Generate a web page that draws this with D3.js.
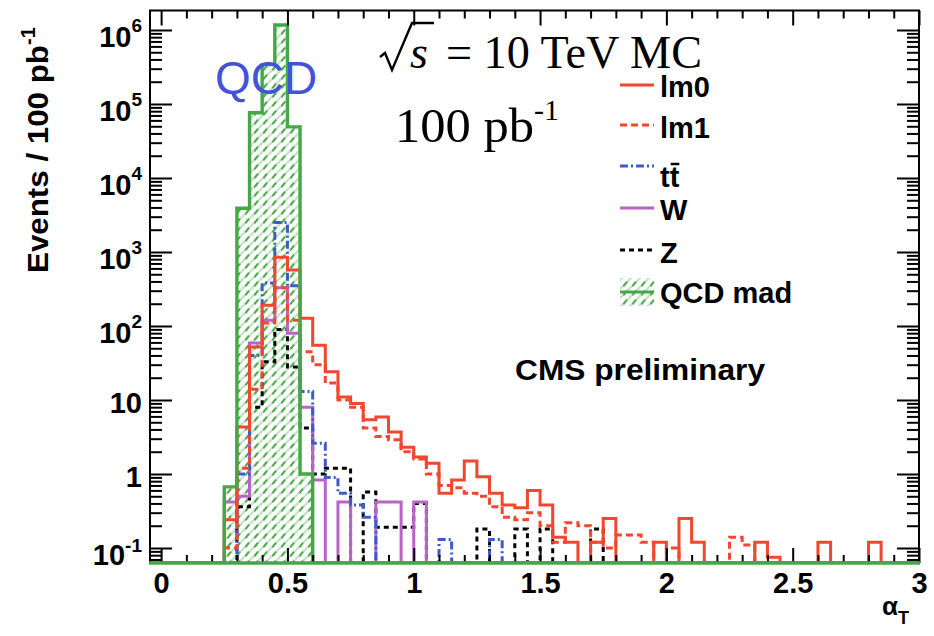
<!DOCTYPE html>
<html>
<head>
<meta charset="utf-8">
<script src="https://cdn.jsdelivr.net/npm/d3@7"></script>
<style>
  html, body { margin: 0; padding: 0; background: #fff; }
  svg { display: block; }
</style>
</head>
<body>
<svg id="chart" width="934" height="636"></svg>
<script>
// ---- binning: 60 bins of alpha_T, width 0.05, from 0 to 3 ----
const binWidth = 0.05;
const binLow = d3.range(60).map(i => +(i * binWidth).toFixed(2));

// ---- events / 100 pb^-1 per bin ----
const qcdMad = [
  0, 0, 0, 0, 0, 0.67, 3900, 76000, 340000, 1170000,
  49000, 1.0, 0, 0, 0, 0, 0, 0, 0, 0,
  0, 0, 0, 0, 0, 0, 0, 0, 0, 0,
  0, 0, 0, 0, 0, 0, 0, 0, 0, 0,
  0, 0, 0, 0, 0, 0, 0, 0, 0, 0,
  0, 0, 0, 0, 0, 0, 0, 0, 0, 0
];
const lm0 = [
  0, 0, 0, 0, 0, 0.24, 4.3, 52, 190, 850,
  570, 127, 55, 24, 11, 9, 5.4, 5.9, 3.7, 2.3,
  1.7, 1.4, 0.55, 0.83, 1.5, 0.92, 0.55, 0.38, 0.35, 0.6,
  0.38, 0.14, 0.12, 0, 0.12, 0.25, 0, 0, 0, 0.12,
  0, 0.25, 0.12, 0, 0, 0, 0, 0.12, 0.075, 0,
  0, 0, 0.12, 0, 0, 0, 0.12, 0, 0, 0
];
const lm1 = [
  0, 0, 0, 0, 0, 0.1, 1.2, 14, 110, 330,
  120, 45, 30, 17, 10, 8, 4.2, 3.2, 2.9, 2.0,
  1.6, 1.0, 0.7, 0.65, 0.55, 0.5, 0.36, 0.26, 0.24, 0.3,
  0.2, 0.12, 0.22, 0.2, 0.12, 0.1, 0.15, 0.15, 0.12, 0,
  0.1, 0, 0, 0, 0, 0.14, 0.11, 0, 0, 0,
  0, 0, 0, 0, 0, 0, 0, 0, 0, 0
];
const ttbar = [
  0, 0, 0, 0, 0, 0, 1.0, 40, 380, 2500,
  350, 13, 2.6, 0.9, 0.55, 0.38, 0.26, 0, 0, 0,
  0, 0, 0.13, 0, 0, 0, 0.13, 0, 0, 0,
  0, 0, 0, 0, 0, 0, 0, 0, 0, 0,
  0, 0, 0, 0, 0, 0, 0, 0, 0, 0,
  0, 0, 0, 0, 0, 0, 0, 0, 0, 0
];
const wjets = [
  0, 0, 0, 0, 0, 0.42, 0.5, 59, 120, 330,
  80, 8, 0.83, 0, 0.42, 0, 0, 0.42, 0.42, 0,
  0.42, 0, 0, 0, 0, 0, 0, 0, 0, 0,
  0, 0, 0, 0, 0, 0, 0, 0, 0, 0,
  0, 0, 0, 0, 0, 0, 0, 0, 0, 0,
  0, 0, 0, 0, 0, 0, 0, 0, 0, 0
];
const zjets = [
  0, 0, 0, 0, 0, 0, 0.36, 8, 33, 90,
  28, 4.2, 1.0, 1.2, 1.2, 0, 0.57, 0.19, 0.19, 0.19,
  0.4, 0, 0, 0, 0, 0.18, 0, 0, 0.18, 0,
  0.18, 0, 0, 0, 0.18, 0, 0, 0, 0, 0,
  0, 0, 0, 0, 0, 0, 0, 0, 0, 0,
  0, 0, 0, 0, 0, 0, 0, 0, 0, 0
];

// ---- axis ticks and labels ----
const xTickValues = [0, 0.5, 1, 1.5, 2, 2.5, 3];
const xTickLabels = ["0", "0.5", "1", "1.5", "2", "2.5", "3"];
const yTickValues = [0.1, 1, 10, 100, 1e3, 1e4, 1e5, 1e6];
const yTickLabels = [["10", "-1"], ["1", ""], ["10", ""], ["10", "2"], ["10", "3"], ["10", "4"], ["10", "5"], ["10", "6"]];

// ---- legend entries ----
const legendNames = ["lm0", "lm1", "tt", "W", "Z", "QCD mad"];

// ---- layout ----
const L = 150, R = 919, T = 10.5, B = 563;
const yMin = 0.0627, yMax = 1.834e6;
const SANS = "'Liberation Sans', Arial, Helvetica, sans-serif";
const SERIF = "'Liberation Serif', 'Times New Roman', Times, serif";

const x = d3.scaleLinear().domain([-0.044, 3]).range([L, R]);
const y = d3.scaleLog().domain([yMin, yMax]).range([B, T]);

const svg = d3.select("#chart").style("font-family", SANS);
const defs = svg.append("defs");

// hatch used for the QCD fill
const pat = defs.append("pattern")
  .attr("id", "qcdHatch")
  .attr("patternUnits", "userSpaceOnUse")
  .attr("width", 9).attr("height", 9);
pat.append("rect").attr("width", 9).attr("height", 9).attr("fill", "#ffffff");
pat.append("path")
  .attr("d", "M-1,10 L10,-1 M-1,1 L1,-1 M8,10 L10,8")
  .attr("stroke", "#c9e4c9").attr("stroke-width", 2.4);
pat.append("path")
  .attr("d", "M3,6.6 L5.6,3.2")
  .attr("stroke", "#4fac4f").attr("stroke-width", 2).attr("stroke-linecap", "round");

defs.append("clipPath").attr("id", "frameClip")
  .append("rect").attr("x", L).attr("y", T).attr("width", R - L).attr("height", B - T);

// value -> pixel, with empty bins sitting on the frame bottom
const yc = v => (v > yMin ? y(Math.min(v, yMax)) : B);

function histPoints(vals) {
  const last = vals.length - 1;
  const pts = [[x.domain()[0], 0]];
  vals.forEach((v, i) => pts.push([binLow[i], v]));
  pts.push([binLow[last] + binWidth, vals[last]]);
  pts.push([binLow[last] + binWidth, 0]);
  return pts;
}

const stepLine = d3.line()
  .x(d => x(d[0]))
  .y(d => yc(d[1]))
  .curve(d3.curveStepAfter);

const stepArea = d3.area()
  .x(d => x(d[0]))
  .y0(B)
  .y1(d => yc(d[1]))
  .curve(d3.curveStepAfter);

const plot = svg.append("g").attr("clip-path", "url(#frameClip)");

const colors = {
  lm0: "#f2462f",
  lm1: "#f2462f",
  tt: "#3b5cc8",
  W: "#b964c6",
  Z: "#000000",
  qcd: "#45a846"
};

// QCD hatched fill
plot.append("path")
  .attr("d", stepArea(histPoints(qcdMad)))
  .attr("fill", "url(#qcdHatch)");

const series = [
  { vals: zjets, color: colors.Z, dash: "5,4", w: 3 },
  { vals: wjets, color: colors.W, dash: null, w: 3 },
  { vals: ttbar, color: colors.tt, dash: "8,3,2,3", w: 3 },
  { vals: lm1, color: colors.lm1, dash: "7,4", w: 3 },
  { vals: lm0, color: colors.lm0, dash: null, w: 3 }
];
series.forEach(s => {
  plot.append("path")
    .attr("d", stepLine(histPoints(s.vals)))
    .attr("fill", "none")
    .attr("stroke", s.color)
    .attr("stroke-width", s.w)
    .attr("stroke-dasharray", s.dash);
});

// QCD outline on top
plot.append("path")
  .attr("d", stepLine(histPoints(qcdMad)))
  .attr("fill", "none")
  .attr("stroke", colors.qcd)
  .attr("stroke-width", 3.4);

// ---- axes ----
const xMinor = x.ticks(30).filter(v => v > 0 && Math.abs(v * 2 - Math.round(v * 2)) > 1e-6);
const yMinor = y.ticks().filter(v => !yTickValues.some(t => Math.abs(t - v) / t < 1e-6));

function styleAxis(g) {
  g.select(".domain").remove();
  g.selectAll(".tick line").attr("stroke", "#000").attr("stroke-width", 2);
}

// bottom
svg.append("g").attr("transform", `translate(0,${B})`)
  .call(d3.axisBottom(x).tickValues(xMinor).tickSize(-8).tickFormat(""))
  .call(styleAxis);
const xAx = svg.append("g").attr("transform", `translate(0,${B})`)
  .call(d3.axisBottom(x).tickValues(xTickValues).tickSize(-15).tickPadding(9)
    .tickFormat((d, i) => xTickLabels[i]))
  .call(styleAxis);
xAx.attr("font-family", null).attr("font-size", null);
xAx.selectAll("text")
  .attr("fill", "#000")
  .attr("font-size", 29)
  .attr("font-weight", "bold")
  .style("font-family", SANS);

// top
svg.append("g").attr("transform", `translate(0,${T})`)
  .call(d3.axisTop(x).tickValues(xMinor).tickSize(-8).tickFormat(""))
  .call(styleAxis);
svg.append("g").attr("transform", `translate(0,${T})`)
  .call(d3.axisTop(x).tickValues(xTickValues).tickSize(-15).tickFormat(""))
  .call(styleAxis);

// left
svg.append("g").attr("transform", `translate(${L},0)`)
  .call(d3.axisLeft(y).tickValues(yMinor).tickSize(-12).tickFormat(""))
  .call(styleAxis);
const yAx = svg.append("g").attr("transform", `translate(${L},0)`)
  .call(d3.axisLeft(y).tickValues(yTickValues).tickSize(-22).tickPadding(8).tickFormat(""))
  .call(styleAxis);
yAx.selectAll(".tick").each(function (d, i) {
  const lab = yTickLabels[i];
  const t = d3.select(this).select("text")
    .attr("x", -8)
    .attr("dy", null)
    .attr("y", lab[1] ? 17 : 13)
    .attr("fill", "#000")
    .attr("font-size", 29)
    .attr("font-weight", "bold")
    .attr("text-anchor", "end")
    .style("font-family", SANS);
  t.text(null);
  t.append("tspan").text(lab[0]);
  if (lab[1]) {
    t.append("tspan").attr("dy", lab[1] === "-1" ? -13 : -15).attr("font-size", 19).text(lab[1]);
  }
});

// right
svg.append("g").attr("transform", `translate(${R},0)`)
  .call(d3.axisRight(y).tickValues(yMinor).tickSize(-12).tickFormat(""))
  .call(styleAxis);
svg.append("g").attr("transform", `translate(${R},0)`)
  .call(d3.axisRight(y).tickValues(yTickValues).tickSize(-22).tickFormat(""))
  .call(styleAxis);

// frame (bottom edge is covered by the QCD line)
svg.append("path")
  .attr("d", `M${L},${B} L${L},${T} L${R},${T} L${R},${B}`)
  .attr("fill", "none").attr("stroke", "#000").attr("stroke-width", 2);

// redraw the QCD baseline over the frame corners
svg.append("line")
  .attr("x1", L - 1).attr("x2", R + 1).attr("y1", B).attr("y2", B)
  .attr("stroke", colors.qcd).attr("stroke-width", 3.4);

// ---- axis titles ----
const yTitle = svg.append("text")
  .attr("transform", "translate(48,273) rotate(-90)")
  .attr("font-size", 30).attr("font-weight", "bold").attr("fill", "#000")
  .style("font-family", SANS);
yTitle.append("tspan").attr("textLength", 228).attr("lengthAdjust", "spacingAndGlyphs").text("Events / 100 pb");
yTitle.append("tspan").attr("dy", -13).attr("font-size", 20).text("-1");

const xTitle = svg.append("text")
  .attr("x", 882).attr("y", 615)
  .attr("font-size", 26).attr("font-weight", "bold").attr("fill", "#000")
  .style("font-family", SANS);
xTitle.append("tspan").text("α");
xTitle.append("tspan").attr("dy", 9).attr("font-size", 18).text("T");

// ---- annotations ----
svg.append("text")
  .attr("x", 215).attr("y", 94)
  .attr("font-size", 46).attr("fill", "#4353d9")
  .style("font-family", SANS)
  .text("QCD");

// sqrt(s) = 10 TeV MC
svg.append("path")
  .attr("d", "M380,57 L385,53 L392,70 L412,23 L434,23")
  .attr("fill", "none").attr("stroke", "#000").attr("stroke-width", 2.4)
  .attr("stroke-linejoin", "miter");
svg.append("text")
  .attr("x", 410).attr("y", 68)
  .style("font-family", SERIF)
  .attr("font-style", "italic")
  .attr("font-size", 46).attr("fill", "#000")
  .text("s");
svg.append("text")
  .attr("x", 446).attr("y", 68)
  .style("font-family", SERIF)
  .attr("font-size", 46).attr("fill", "#000")
  .attr("textLength", 256).attr("lengthAdjust", "spacingAndGlyphs")
  .text("= 10 TeV MC");

const lumi = svg.append("text")
  .attr("x", 395).attr("y", 142)
  .style("font-family", SERIF)
  .attr("font-size", 48).attr("fill", "#000");
lumi.append("tspan").attr("textLength", 139).attr("lengthAdjust", "spacingAndGlyphs").text("100 pb");
lumi.append("tspan").attr("dy", -22).attr("font-size", 30).text("-1");

svg.append("text")
  .attr("x", 515).attr("y", 380)
  .attr("font-size", 29).attr("font-weight", "bold").attr("fill", "#000")
  .attr("textLength", 250).attr("lengthAdjust", "spacingAndGlyphs")
  .style("font-family", SANS)
  .text("CMS preliminary");

// ---- legend ----
const legY = [85, 125, 166, 208, 250, 292];
const legText = [97, 138, 187, 220, 263, 303];
const legStyles = [
  { color: colors.lm0, dash: null },
  { color: colors.lm1, dash: "7,4" },
  { color: colors.tt, dash: "8,3,2,3" },
  { color: colors.W, dash: null },
  { color: colors.Z, dash: "5,4" },
  { color: colors.qcd, dash: null }
];
const leg = svg.append("g");
legendNames.forEach((name, i) => {
  const st = legStyles[i];
  if (name === "QCD mad") {
    leg.append("rect")
      .attr("x", 620).attr("y", legY[i] - 14).attr("width", 34).attr("height", 28)
      .attr("fill", "url(#qcdHatch)");
  }
  leg.append("line")
    .attr("x1", 620).attr("x2", 654).attr("y1", legY[i]).attr("y2", legY[i])
    .attr("stroke", st.color).attr("stroke-width", 3)
    .attr("stroke-dasharray", st.dash);
  const t = leg.append("text")
    .attr("x", 660).attr("y", legText[i])
    .attr("font-size", 29).attr("font-weight", "bold").attr("fill", "#000")
    .style("font-family", SANS)
    .text(name);
  if (name === "tt") {
    const w = t.node().getComputedTextLength();
    leg.append("line")
      .attr("x1", 660 + w / 2 + 1).attr("x2", 660 + w)
      .attr("y1", 164).attr("y2", 164)
      .attr("stroke", "#000").attr("stroke-width", 2.5);
  }
});
</script>
</body>
</html>
